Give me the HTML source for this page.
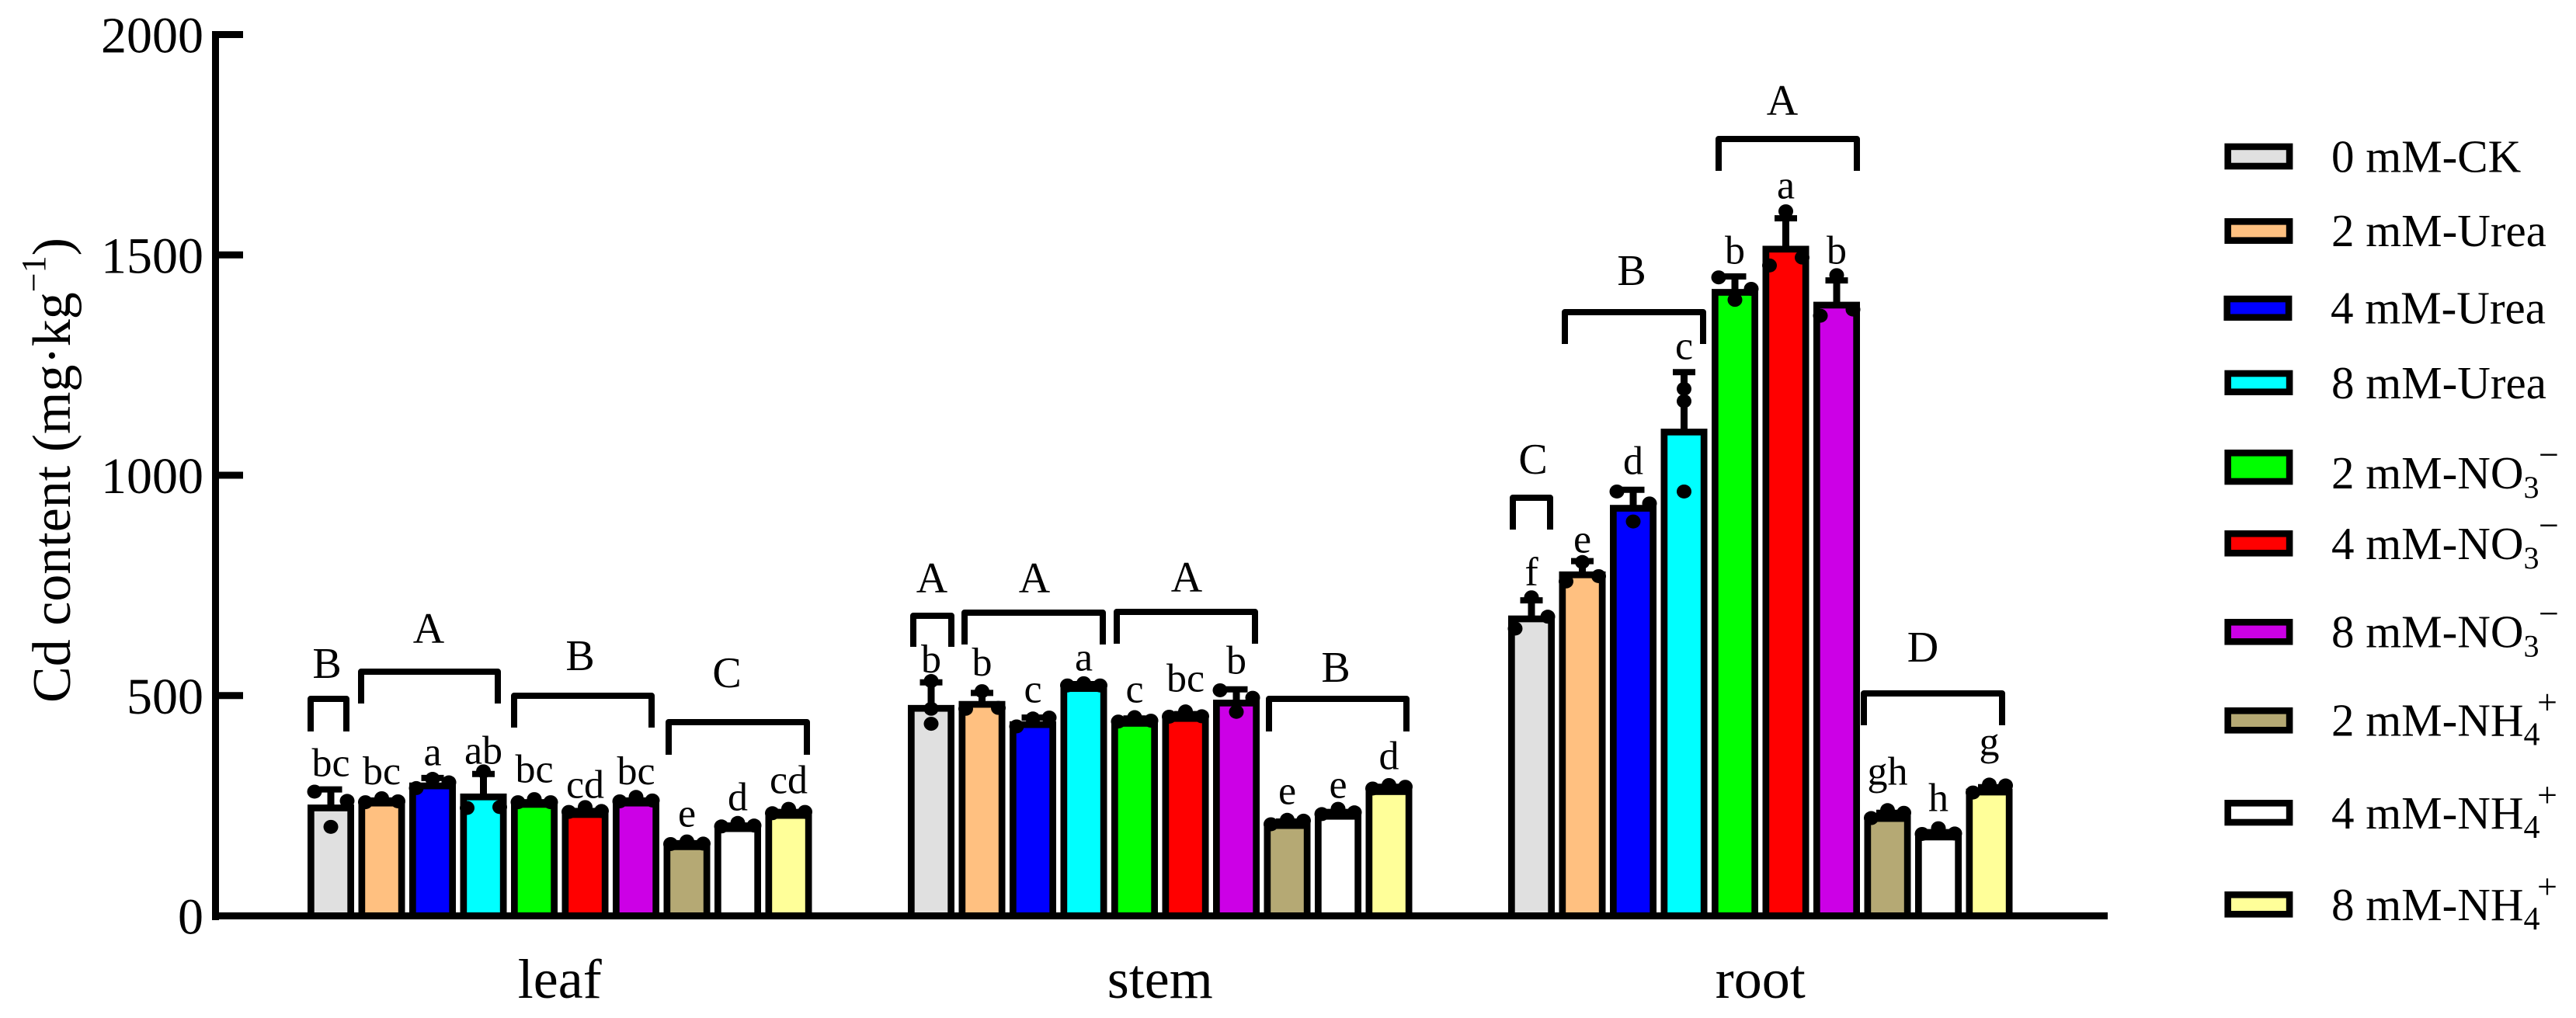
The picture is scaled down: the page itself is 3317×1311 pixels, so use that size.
<!DOCTYPE html>
<html lang="en">
<head>
<meta charset="utf-8">
<title>Cd content by organ and nitrogen treatment</title>
<style>
html,body{margin:0;padding:0;background:#fff;width:3317px;height:1311px;overflow:hidden}
svg{display:block}
text{font-family:"Liberation Serif",serif;fill:#000}
.br{fill:none;stroke:#000;stroke-width:8;stroke-linejoin:round}
.up{font-size:56px;text-anchor:middle}
.lg{font-size:59px}
.sw{stroke:#000;stroke-width:8.6}
</style>
</head>
<body>
<svg id="chart" xmlns="http://www.w3.org/2000/svg" width="3317" height="1311" viewBox="0 0 3317 1311">
  <rect x="0" y="0" width="3317" height="1311" fill="#fff"/>
  <g id="marks"></g>
  <g id="letters"></g>

  <g id="yaxis">
    <rect x="273" y="40" width="9" height="1145" fill="#000"/>
  </g>
  <rect x="273" y="1175" width="2441" height="9" fill="#000"/>
  <text transform="translate(90,905) rotate(-90)" font-size="70">Cd content (mg·kg<tspan dy="-32" font-size="44">−1</tspan><tspan dy="32">)</tspan></text>
  <g id="xlabels"></g>

  <g>
    <path class="br" d="M400 942V900H446V942"/>
    <text class="up" x="421" y="873">B</text>
    <path class="br" d="M465 906V865H641V906"/>
    <text class="up" x="552" y="828">A</text>
    <path class="br" d="M662 937V896H839V937"/>
    <text class="up" x="747" y="863">B</text>
    <path class="br" d="M861 972V930H1039V972"/>
    <text class="up" x="936" y="885">C</text>

    <path class="br" d="M1176 833V793H1225V833"/>
    <text class="up" x="1200" y="763">A</text>
    <path class="br" d="M1242 830V789H1420V830"/>
    <text class="up" x="1332" y="763">A</text>
    <path class="br" d="M1438 829V788H1616V829"/>
    <text class="up" x="1528" y="762">A</text>
    <path class="br" d="M1634 942V900H1811V942"/>
    <text class="up" x="1720" y="878">B</text>

    <path class="br" d="M1948 682V641H1996V682"/>
    <text class="up" x="1974" y="610">C</text>
    <path class="br" d="M2015 443V402H2193V443"/>
    <text class="up" x="2101" y="367">B</text>
    <path class="br" d="M2213 220V179H2391V220"/>
    <text class="up" x="2295" y="148">A</text>
    <path class="br" d="M2400 934V893H2578V934"/>
    <text class="up" x="2476" y="852">D</text>
  </g>

  <g>
    <g>
      <rect class="sw" x="2868.7" y="188.9" width="79.4" height="25.1" fill="#e0e0e0"/>
      <text class="lg" x="3002" y="221.5">0 mM-CK</text>
    </g>
    <g>
      <rect class="sw" x="2868.7" y="285.3" width="79.4" height="24.4" fill="#ffc080"/>
      <text class="lg" x="3002" y="317">2 mM-Urea</text>
    </g>
    <g>
      <rect class="sw" x="2867.7" y="385" width="79.4" height="23.7" fill="#0000ff"/>
      <text class="lg" x="3001" y="416.7">4 mM-Urea</text>
    </g>
    <g>
      <rect class="sw" x="2868.7" y="481" width="79.4" height="23.7" fill="#00ffff"/>
      <text class="lg" x="3002" y="513">8 mM-Urea</text>
    </g>
    <g>
      <rect class="sw" x="2868.7" y="583.3" width="79.4" height="36.7" fill="#00ff00"/>
      <text class="lg" x="3002" y="629">2 mM-NO<tspan font-size="40" dy="12">3</tspan><tspan font-size="46" x="3269" dy="-40">−</tspan></text>
    </g>
    <g>
      <rect class="sw" x="2868.7" y="687.3" width="79.4" height="25" fill="#ff0000"/>
      <text class="lg" x="3002" y="720">4 mM-NO<tspan font-size="40" dy="12">3</tspan><tspan font-size="46" x="3269" dy="-40">−</tspan></text>
    </g>
    <g>
      <rect class="sw" x="2868.7" y="801.3" width="79.4" height="25" fill="#cc00e6"/>
      <text class="lg" x="3002" y="833.7">8 mM-NO<tspan font-size="40" dy="12">3</tspan><tspan font-size="46" x="3269" dy="-40">−</tspan></text>
    </g>
    <g>
      <rect class="sw" x="2868.7" y="915.3" width="79.4" height="25" fill="#b5a974"/>
      <text class="lg" x="3002" y="947.7">2 mM-NH<tspan font-size="42" dy="12">4</tspan><tspan font-size="46" x="3267" dy="-40">+</tspan></text>
    </g>
    <g>
      <rect class="sw" x="2868.7" y="1034.3" width="79.4" height="24.7" fill="#ffffff"/>
      <text class="lg" x="3002" y="1067">4 mM-NH<tspan font-size="42" dy="12">4</tspan><tspan font-size="46" x="3267" dy="-40">+</tspan></text>
    </g>
    <g>
      <rect class="sw" x="2868.7" y="1152.3" width="79.4" height="25" fill="#ffff99"/>
      <text class="lg" x="3002" y="1185">8 mM-NH<tspan font-size="42" dy="12">4</tspan><tspan font-size="46" x="3267" dy="-40">+</tspan></text>
    </g>
  </g>
</svg>

<script>
// ---- chart data ----
const organs = ["leaf", "stem", "root"];
const treatments = ["0mm-ck", "2mm-urea", "4mm-urea", "8mm-urea", "2mm-no3", "4mm-no3", "8mm-no3", "2mm-nh4", "4mm-nh4", "8mm-nh4"];
const treatmentColors = ["#e0e0e0", "#ffc080", "#0000ff", "#00ffff", "#00ff00", "#ff0000", "#cc00e6", "#b5a974", "#ffffff", "#ffff99"];
const yTicks = [0, 500, 1000, 1500, 2000];

const leafMeans = [245, 256, 295, 270, 253, 230, 256, 157, 198, 228];
const stemMeans = [471, 480, 434, 516, 437, 448, 483, 205, 226, 282];
const rootMeans = [674, 774, 925, 1098, 1415, 1513, 1386, 221, 179, 281];

const leafErrorTops = [287, 262, 313, 322, 258, 238, 262, 165, 205, 236];
const stemErrorTops = [530, 506, 450, 526, 448, 458, 514, 214, 236, 293];
const rootErrorTops = [716, 805, 967, 1234, 1451, 1583, 1442, 234, 190, 292];

const leafReplicates = [[282, 202, 261], [258, 267, 260], [290, 311, 303], [245, 328, 247], [258, 265, 258], [236, 247, 238], [260, 270, 262], [163, 169, 164], [203, 211, 205], [233, 243, 236]];
const stemReplicates = [[436, 533, 470], [470, 510, 472], [430, 448, 450], [523, 528, 523], [441, 451, 443], [452, 464, 453], [512, 463, 495], [208, 218, 216], [231, 243, 235], [289, 297, 293]];
const rootReplicates = [[652, 723, 679], [759, 803, 771], [963, 895, 936], [1196, 963, 1168], [1449, 1398, 1423], [1476, 1599, 1494], [1362, 1454, 1376], [222, 240, 234], [186, 199, 187], [280, 298, 296]];

const leafLetters = ["bc", "bc", "a", "ab", "bc", "cd", "bc", "e", "d", "cd"];
const stemLetters = ["b", "b", "c", "a", "c", "bc", "b", "e", "e", "d"];
const rootLetters = ["f", "e", "d", "c", "b", "a", "b", "gh", "h", "g"];

// letter baselines, in data units
const leafLetterLevels = [317, 299, 342, 345, 303, 268, 299, 203, 240, 278];
const stemLetterLevels = [552, 545, 485, 557, 485, 509, 550, 254, 268, 333];
const rootLetterLevels = [751, 825, 1003, 1263, 1480, 1628, 1480, 298, 238, 365];

const meansByOrgan = [leafMeans, stemMeans, rootMeans];
const errorsByOrgan = [leafErrorTops, stemErrorTops, rootErrorTops];
const replicatesByOrgan = [leafReplicates, stemReplicates, rootReplicates];
const lettersByOrgan = [leafLetters, stemLetters, rootLetters];
const letterLevelsByOrgan = [leafLetterLevels, stemLetterLevels, rootLetterLevels];

// ---- axis functions ----
function yScale(v) { return 1179.5 - v * 0.5675; }
function xBar(organIndex, treatmentIndex) { return 426 + 773 * organIndex + 65.5 * treatmentIndex; }
function xOrgan(organIndex) { return (xBar(organIndex, 0) + xBar(organIndex, 9)) / 2; }

const NS = "http://www.w3.org/2000/svg";
function make(tag, attrs, parent) {
  const el = document.createElementNS(NS, tag);
  for (const k in attrs) el.setAttribute(k, attrs[k]);
  parent.appendChild(el);
  return el;
}

// dots closer than one dot height spread sideways, isolated dots stay centred
function dotOffsets(vals) {
  const order = vals.map((v, i) => i).sort((a, b) => vals[a] - vals[b]);
  const groups = [];
  order.forEach((idx, k) => {
    if (k > 0 && Math.abs(yScale(vals[idx]) - yScale(vals[order[k - 1]])) < 15.5) {
      groups[groups.length - 1].push(idx);
    } else {
      groups.push([idx]);
    }
  });
  const out = [0, 0, 0];
  groups.forEach(g => {
    g.sort((a, b) => a - b);
    if (g.length === 2) { out[g[0]] = -21; out[g[1]] = 21; }
    if (g.length === 3) { out[g[0]] = -21; out[g[1]] = 0; out[g[2]] = 21; }
  });
  return out;
}

const marks = document.getElementById("marks");
const lettersLayer = document.getElementById("letters");
const yaxis = document.getElementById("yaxis");
const xlabels = document.getElementById("xlabels");

organs.forEach((organ, g) => {
  const base = yScale(0);
  treatments.forEach((tr, t) => {
    const cx = xBar(g, t);
    const top = yScale(meansByOrgan[g][t]);
    const capY = yScale(errorsByOrgan[g][t]);

    const errLine = make("line", { x1: cx, x2: cx, y1: top, y2: capY, stroke: "#000", "stroke-width": 9 }, marks);
    
    

    const cap = make("line", { x1: cx - 14.5, x2: cx + 14.5, y1: capY, y2: capY, stroke: "#000", "stroke-width": 8 }, marks);
    
    

    const bar = make("rect", { x: cx - 25.65, y: top, width: 51.3, height: base - top, fill: treatmentColors[t], stroke: "#000", "stroke-width": 8.7 }, marks);
    
    

    const offs = dotOffsets(replicatesByOrgan[g][t]);
    replicatesByOrgan[g][t].forEach((v, r) => {
      const dot = make("ellipse", { cx: cx + offs[r], cy: yScale(v), rx: 9.5, ry: 9, fill: "#000" }, marks);
      
      
    });

    const letter = make("text", { x: cx, y: yScale(letterLevelsByOrgan[g][t]), "font-size": 52, "text-anchor": "middle" }, lettersLayer);
    letter.textContent = lettersByOrgan[g][t];
    
    
  });

  const lbl = make("text", { x: xOrgan(g), y: 1285, "font-size": 72, "text-anchor": "middle" }, xlabels);
  lbl.textContent = organ;
  
  
});

yTicks.forEach(v => {
  const y = yScale(v);
  const tick = make("rect", { x: 273, y: y - 4.5, width: 40, height: 9, fill: "#000" }, yaxis);
  
  
  const lab = make("text", { x: 262, y: y + 23, "font-size": 66, "text-anchor": "end" }, yaxis);
  lab.textContent = String(v);
  
  
});
</script>
</body>
</html>
